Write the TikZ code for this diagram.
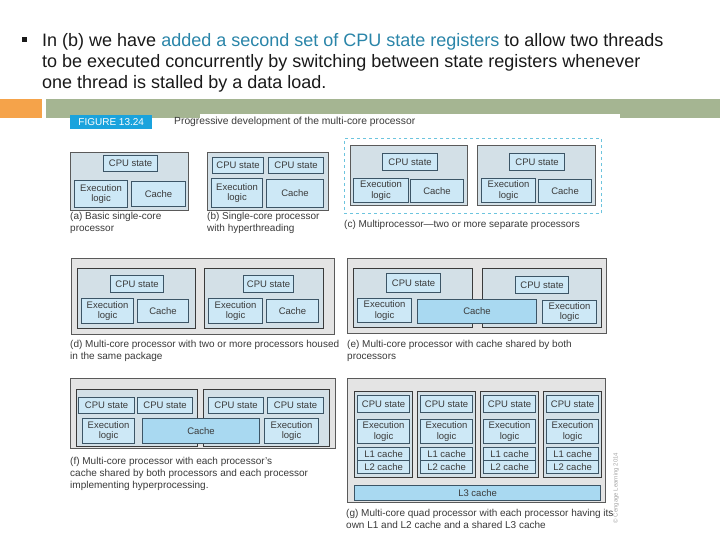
\documentclass[tikz,border=0pt]{standalone}
\usepackage{fontspec}
\setmainfont{Liberation Sans}
\definecolor{outerfill}{HTML}{E4E4E4}
\definecolor{outerdraw}{HTML}{5A5A5A}
\definecolor{corefill}{HTML}{D3E0E7}
\definecolor{coredraw}{HTML}{3A3A3A}
\definecolor{compfill}{HTML}{CDE8F6}
\definecolor{compdraw}{HTML}{3C5566}
\definecolor{sharefill}{HTML}{A9D9F1}
\definecolor{figcyan}{HTML}{1AA3DD}
\definecolor{dashcyan}{HTML}{6CC4DE}
\definecolor{hilite}{HTML}{2A85A9}
\definecolor{barorange}{HTML}{F5A34A}
\definecolor{bargreen}{HTML}{A5B592}
\definecolor{boxtext}{HTML}{3A3A3A}
\definecolor{captext}{HTML}{3A3A3A}
\definecolor{maintext}{HTML}{1A1A1A}
\newcommand{\mybox}[7]{\node[#2, anchor=north west, minimum width={(#5-#3)*1bp}, minimum height={(#6-#4)*1bp}] (#1) at (#3,#4) {#7};}
\tikzset{
 outerbx/.style={draw=outerdraw, fill=outerfill, line width=1bp, inner sep=0pt},
 bluebx/.style={draw=outerdraw, fill=corefill, line width=1bp, inner sep=0pt},
 corebx/.style={draw=coredraw, fill=corefill, line width=1bp, inner sep=0pt},
 compbx/.style={draw=compdraw, fill=compfill, line width=1.1bp, inner sep=0pt, align=center, font=\fontsize{9.5bp}{10.5bp}\selectfont, text=boxtext},
 sharebx/.style={compbx, fill=sharefill},
 dashbx/.style={draw=dashcyan, dashed, line width=1bp, inner sep=0pt},
 captxt/.style={anchor=north west, align=left, inner sep=0pt, font=\fontsize{10bp}{11.8bp}\selectfont, text=captext},
}
\begin{document}
\begin{tikzpicture}[x=1bp,y=-1bp]
\useasboundingbox[fill=white] (0,0) rectangle (720,540);
% header bars
\fill[barorange] (0,99) rectangle (42,118);
\fill[bargreen] (46,99) rectangle (720,118);
\fill[white] (200,114) rectangle (620,118);
% bullet text
\node[fill=maintext, minimum size=5bp, inner sep=0pt] (bul) at (24,40) {};
\node[anchor=north west, align=left, inner sep=0pt, text=maintext, font=\fontsize{18bp}{21bp}\selectfont] (txt) at (42,33.1)
 {In (b) we have \textcolor{hilite}{added a second set of CPU state registers} to allow two threads\\
 to be executed concurrently by switching between state registers whenever\\
 one thread is stalled by a data load.};
% figure label
\node[fill=figcyan, text=white, anchor=north west, minimum width=82bp, minimum height=14bp, inner sep=0pt, font=\fontsize{10bp}{11bp}\selectfont] (figlbl) at (70,115) {FIGURE 13.24};
\node[anchor=west, inner sep=0pt, text=captext, font=\fontsize{10.3bp}{12bp}\selectfont] (figttl) at (174,122) {Progressive development of the multi-core processor};
% (a)
\mybox{aout}{bluebx}{70}{152}{188}{210}{}
\mybox{acpu}{compbx}{103}{155}{157}{171}{CPU state}
\mybox{aexe}{compbx}{74}{180}{127}{207}{Execution\\logic}
\mybox{acac}{compbx}{131}{181}{185}{206}{Cache}
\node[captxt] (acap) at (70,212) {(a) Basic single-core\\processor};
% (b)
\mybox{bout}{bluebx}{207}{152}{328}{210}{}
\mybox{bcpua}{compbx}{212}{157}{263}{173}{CPU state}
\mybox{bcpub}{compbx}{268}{157}{323}{173}{CPU state}
\mybox{bexe}{compbx}{211}{178}{262}{207}{Execution\\logic}
\mybox{bcac}{compbx}{266}{179}{323}{207}{Cache}
\node[captxt] (bcap) at (207,212) {(b) Single-core processor\\with hyperthreading};
% (c)
\mybox{cdash}{dashbx}{344}{138}{601}{213}{}
\mybox{cpa}{bluebx}{350}{145}{467}{205}{}
\mybox{ccpua}{compbx}{382}{153}{437}{170}{CPU state}
\mybox{cexea}{compbx}{353}{178}{408}{202}{Execution\\logic}
\mybox{ccaca}{compbx}{410}{179}{463}{202}{Cache}
\mybox{cpb}{bluebx}{477}{145}{595}{205}{}
\mybox{ccpub}{compbx}{509}{153}{564}{170}{CPU state}
\mybox{cexeb}{compbx}{481}{178}{535}{202}{Execution\\logic}
\mybox{ccacb}{compbx}{538}{179}{591}{202}{Cache}
\node[captxt] (ccap) at (344,220) {(c) Multiprocessor---two or more separate processors};
% (d)
\mybox{dout}{outerbx}{71}{258}{334}{334}{}
\mybox{dpa}{corebx}{77}{268}{195}{328}{}
\mybox{dcpua}{compbx}{110}{275}{163}{292}{CPU state}
\mybox{dexea}{compbx}{81}{298}{133}{323}{Execution\\logic}
\mybox{dcaca}{compbx}{137}{299}{188}{322}{Cache}
\mybox{dpb}{corebx}{204}{268}{323}{328}{}
\mybox{dcpub}{compbx}{243}{275}{293}{292}{CPU state}
\mybox{dexeb}{compbx}{208}{298}{262}{323}{Execution\\logic}
\mybox{dcacb}{compbx}{266}{299}{318}{322}{Cache}
\node[captxt] (dcap) at (70,340) {(d) Multi-core processor with two or more processors housed\\in the same package};
% (e)
\mybox{eout}{outerbx}{347}{258}{606}{333}{}
\mybox{epa}{corebx}{353}{268}{472}{327}{}
\mybox{epb}{corebx}{482}{268}{601}{327}{}
\mybox{ecpua}{compbx}{386}{273}{440}{292}{CPU state}
\mybox{eexea}{compbx}{357}{298}{411}{322}{Execution\\logic}
\mybox{ecac}{sharebx}{417}{299}{536}{323}{Cache}
\mybox{ecpub}{compbx}{515}{276}{568}{293}{CPU state}
\mybox{eexeb}{compbx}{542}{300}{596}{323}{Execution\\logic}
\node[captxt] (ecap) at (347,340) {(e) Multi-core processor with cache shared by both\\processors};
% (f)
\mybox{fout}{outerbx}{70}{378}{335}{448}{}
\mybox{fpa}{corebx}{76}{389}{197}{446}{}
\mybox{fpb}{corebx}{203}{389}{329}{446}{}
\mybox{fcpua}{compbx}{78}{397}{134}{413}{CPU state}
\mybox{fcpub}{compbx}{137}{397}{192}{413}{CPU state}
\mybox{fcpuc}{compbx}{208}{397}{263}{413}{CPU state}
\mybox{fcpud}{compbx}{267}{397}{323}{413}{CPU state}
\mybox{fexea}{compbx}{82}{418}{134}{443}{Execution\\logic}
\mybox{fcac}{sharebx}{142}{418}{259}{443}{Cache}
\mybox{fexeb}{compbx}{264}{418}{318}{443}{Execution\\logic}
\node[captxt] (fcap) at (70,457) {(f) Multi-core processor with each processor's\\cache shared by both processors and each processor\\implementing hyperprocessing.};
% (g)
\mybox{gout}{outerbx}{347}{378}{605}{502}{}
\foreach \i/\xa in {1/354,2/417,3/480,4/543}{
  \pgfmathsetmacro{\xb}{\xa+58}
  \pgfmathsetmacro{\xc}{\xa+3}
  \pgfmathsetmacro{\xd}{\xa+55}
  \mybox{gcore\i}{corebx}{\xa}{391}{\xb}{477}{}
  \mybox{gcpu\i}{compbx}{\xc}{395}{\xd}{412}{CPU state}
  \mybox{gexe\i}{compbx}{\xc}{419}{\xd}{443}{Execution\\logic}
  \mybox{gla\i}{compbx}{\xc}{447}{\xd}{460}{L1 cache}
  \mybox{glb\i}{compbx}{\xc}{460}{\xd}{473}{L2 cache}
}
\mybox{gl3}{sharebx}{354}{485}{600}{500}{L3 cache}
\node[captxt] (gcap) at (346,509) {(g) Multi-core quad processor with each processor having its\\own L1 and L2 cache and a shared L3 cache};
\node[rotate=90, inner sep=0pt, font=\fontsize{6bp}{7bp}\selectfont, text=black!35] (copy) at (616,488) {\textcopyright{} Cengage Learning 2014};
\end{tikzpicture}
\end{document}
